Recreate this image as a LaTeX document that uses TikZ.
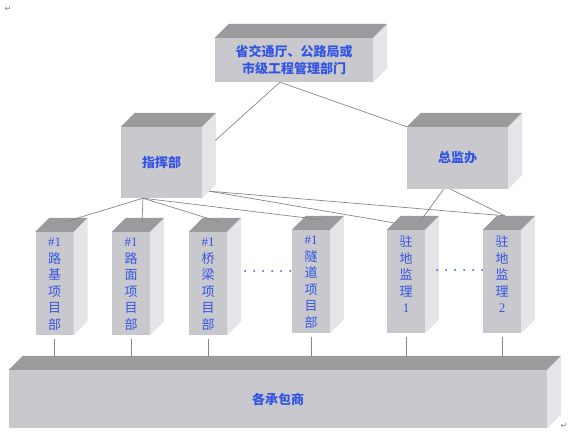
\documentclass[tikz,border=0pt]{standalone}
\usepackage{fontspec}
\setmainfont{Liberation Serif}
\newfontfamily\cjk{Noto Sans CJK SC}
\newfontfamily\symfont{DejaVu Sans}
\usetikzlibrary{positioning}
\usetikzlibrary{calc}
\definecolor{frontgray}{RGB}{201,200,204}
\definecolor{topgray}{RGB}{155,155,157}
\definecolor{sidegray}{RGB}{229,228,232}
\definecolor{linegray}{RGB}{135,135,135}
\definecolor{labelblue}{RGB}{51,85,230}
\tikzstyle{block} = [rectangle, fill=frontgray, inner sep=0pt, text=labelblue, align=center, font=\cjk\bfseries\fontsize{13}{16.5}\selectfont]
\tikzstyle{column} = [block, minimum width=38pt, minimum height=103pt]
\tikzstyle{coltext} = [inner sep=0pt, text=labelblue, align=center, font=\cjk\fontsize{13}{16.5}\selectfont]
\tikzstyle{topface} = [fill=topgray]
\tikzstyle{sideface} = [fill=sidegray]
\tikzstyle{link} = [draw=linegray, line width=0.7pt]
\tikzstyle{dotrow} = [draw=labelblue, line width=2pt, line cap=round, dash pattern=on 0pt off 9pt]
\tikzstyle{retmark} = [inner sep=0pt, text=gray, font=\symfont\fontsize{8}{8}\selectfont]

\begin{document}
\begin{tikzpicture}[x=1pt, y=-1pt]
\useasboundingbox (0,0) rectangle (569,436);
% Blocks
\node [block, minimum width=158pt, minimum height=44pt] (gov) at (294,60) {省交通厅、公路局或\\市级工程管理部门};
\node [block, minimum width=81pt, minimum height=71pt] (hq) at (161.5,162.5) {指挥部};
\node [block, minimum width=101pt, minimum height=62pt] (sup) at (457.5,158) {总监办};
\node [column] (col1) at (54.5,283.5) {};
\node [column] (col2) at (131,283.5) {};
\node [column] (col3) at (208,283.5) {};
\node [column] (col4) at (311,281.5) {};
\node [column] (col5) at (406,281.5) {};
\node [column] (col6) at (502,281.5) {};
\node [block, minimum width=538pt, minimum height=58pt] (base) at (278,399) {各承包商};

% Column labels
\node [coltext, below=6pt of col1.north] (col1txt) {{\rmfamily\#1}\\路\\基\\项\\目\\部};
\node [coltext, below=6pt of col2.north] (col2txt) {{\rmfamily\#1}\\路\\面\\项\\目\\部};
\node [coltext, below=6pt of col3.north] (col3txt) {{\rmfamily\#1}\\桥\\梁\\项\\目\\部};
\node [coltext, below=6pt of col4.north] (col4txt) {{\rmfamily\#1}\\隧\\道\\项\\目\\部};
\node [coltext, below=6pt of col5.north] (col5txt) {驻\\地\\监\\理\\{\rmfamily 1}};
\node [coltext, below=6pt of col6.north] (col6txt) {驻\\地\\监\\理\\{\rmfamily 2}};

% Top and side faces
\foreach \n in {gov,hq,sup,col1,col2,col3,col4,col5,col6,base} {
  \fill [topface] (\n.north west) -- ++(14,-14) -- ($(\n.north east)+(14,-14)$) -- (\n.north east) -- cycle;
  \fill [sideface] (\n.north east) -- ++(14,-14) -- ($(\n.south east)+(14,-14)$) -- (\n.south east) -- cycle;
}

% Lines
\coordinate (govfoot) at ($(gov.south)+(-14,0)$);
\coordinate (hqfoot) at ($(hq.south)+(-18.5,0)$);
\coordinate (hqside) at ($(hq.south east)+(7,-7)$);
\coordinate (col6top) at ($(col6.north)+(3,-14)$);
\draw [link] (govfoot) -- ($(hq.east)+(13,-22)$);
\draw [link] (govfoot) -- (sup.north west);
\foreach \i in {1,...,4}
  \draw [link] (hqfoot) -- ($(col\i.north)+(11,-10)$);
\draw [link] (hqside) -- ($(col5.north west)+(7,-7)$);
\draw [link] (hqside) -- (col6top);
\draw [link] ($(sup.south)+(-14,0)$) -- ($(col5.north)+(14,-8)$);
\draw [link] ($(sup.south)+(-7,0)$) -- (col6top);
\foreach \i in {1,...,6}
  \draw [link] ($(col\i.south)+(0,4)$) -- ($(col\i.south |- base.north)+(0,-13)$);

% Dots
\coordinate (dotsA) at (245,271);
\coordinate (dotsAend) at (290.5,271);
\coordinate (dotsB) at (437,270);
\coordinate (dotsBend) at (482.5,270);
\draw [dotrow] (dotsA) -- (dotsAend);
\draw [dotrow] (dotsB) -- (dotsBend);

% Paragraph marks
\node [retmark] (retA) at (8,9) {↵};
\node [retmark] (retB) at (564,426) {↵};
\end{tikzpicture}
\end{document}
